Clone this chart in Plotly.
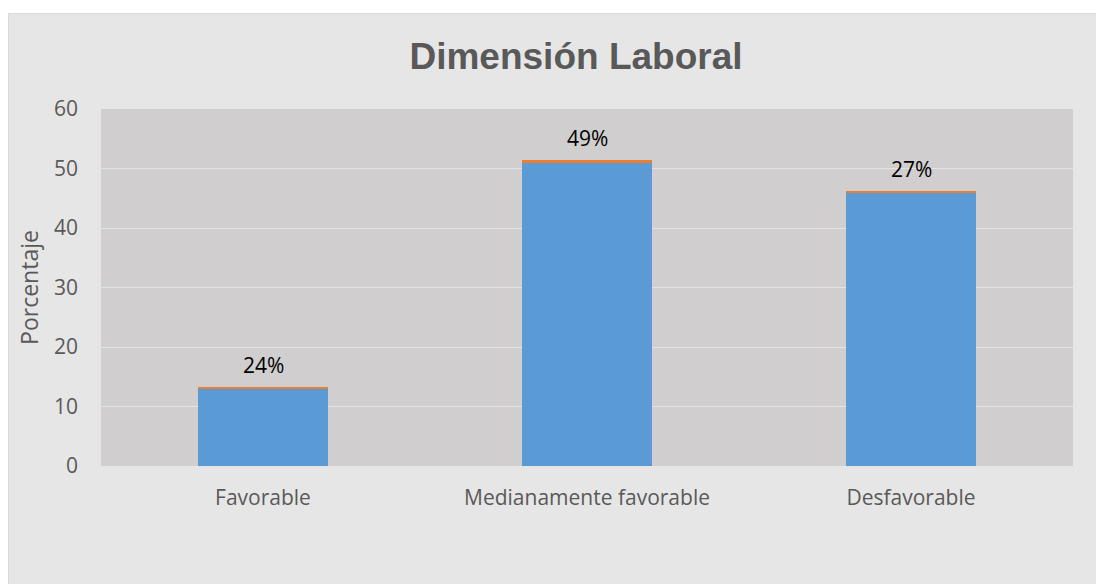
import plotly.graph_objects as go

categories = ["Favorable", "Medianamente favorable", "Desfavorable"]
base_values = [13, 51, 46]
pct_values = [0.24, 0.49, 0.27]
y_ticks = [0, 10, 20, 30, 40, 50, 60]

W, H = 1104, 584
L, R, T, B = 93, 39, 101, 126
pw, ph = W - L - R, H - T - B

def px_x(x):
    return (x - L) / pw

def px_y(y):
    return (H - B - y) / ph

fig = go.Figure()
fig.add_trace(go.Bar(x=categories, y=base_values, marker=dict(color="#5B9BD5", line=dict(width=0)),
                     name="base", hoverinfo="y"))
fig.add_trace(go.Bar(x=categories, y=pct_values, marker=dict(color="#ED7D31", line=dict(width=0)),
                     name="pct", hoverinfo="y"))

font_main = "'Open Sans', sans-serif"

for c, b, p in zip(categories, base_values, pct_values):
    fig.add_annotation(x=c, y=b + p, text=f"{round(p*100)}%", showarrow=False,
                       yanchor="bottom", yshift=6,
                       font=dict(family=font_main, size=21, color="#000000"))

# white strip at top + light border
fig.add_shape(type="rect", xref="paper", yref="paper",
              x0=px_x(-5), x1=px_x(W + 5), y0=px_y(5), y1=px_y(-5),
              line=dict(width=0), fillcolor="#FFFFFF", layer="below")
fig.add_shape(type="line", xref="paper", yref="paper",
              x0=px_x(0), x1=px_x(W + 5), y0=px_y(5.5), y1=px_y(5.5),
              line=dict(color="#D9D9D9", width=1))
fig.add_shape(type="line", xref="paper", yref="paper",
              x0=px_x(0.5), x1=px_x(0.5), y0=px_y(H + 5), y1=px_y(5.5),
              line=dict(color="#D9D9D9", width=1))

fig.update_layout(
    width=W, height=H,
    margin=dict(l=L, r=R, t=T, b=B),
    paper_bgcolor="#E7E6E6",
    plot_bgcolor="#D0CECE",
    barmode="stack",
    bargap=0.6,
    showlegend=False,
    title=dict(text="<b>Dimensión Laboral</b>", xref="container", x=568 / W, xanchor="center",
               yref="container", y=1 - 48 / H, yanchor="middle",
               font=dict(family="'Liberation Sans', Arial, sans-serif", size=37, color="#595959")),
    xaxis=dict(showgrid=False, showline=False, zeroline=False, ticks="", ticklabelstandoff=17,
               tickfont=dict(family=font_main, size=21, color="#595959")),
    yaxis=dict(range=[0, 60], tickvals=y_ticks, showgrid=True, gridcolor="#E4E3E3", gridwidth=1,
               zeroline=False, showline=False, ticks="", ticklabelstandoff=22,
               tickfont=dict(family=font_main, size=21, color="#595959"),
               title=dict(text="Porcentaje", standoff=8,
                          font=dict(family=font_main, size=23, color="#595959"))),
)

fig.write_html("out.html")
